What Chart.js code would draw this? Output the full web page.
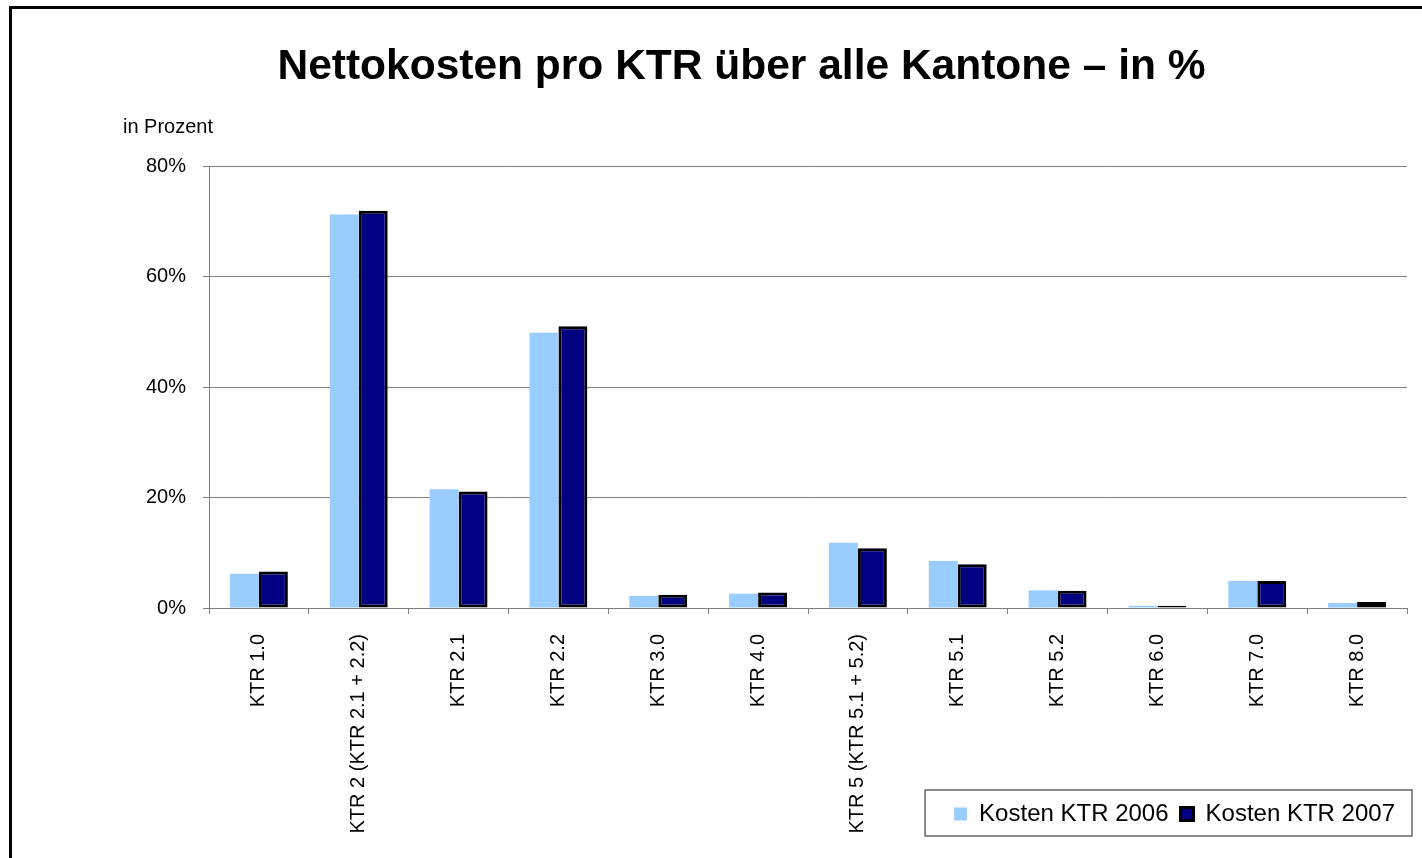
<!DOCTYPE html>
<html>
<head>
<meta charset="utf-8">
<script src="https://cdn.jsdelivr.net/npm/chart.js@4/dist/chart.umd.min.js"></script>
<style>
  body { margin: 0; background: #fff; overflow: hidden; }
  #wrap { position: relative; width: 1422px; height: 858px; }
  #frame { position: absolute; left: 9px; top: 6px; width: 2000px; height: 2000px;
           border: 3px solid #000; pointer-events: none; }
</style>
</head>
<body>
<div id="wrap">
  <canvas id="ktrChart" width="1422" height="858"></canvas>
  <div id="frame"></div>
</div>
<script>
const categories = ["KTR 1.0", "KTR 2 (KTR 2.1 + 2.2)", "KTR 2.1", "KTR 2.2", "KTR 3.0", "KTR 4.0",
    "KTR 5 (KTR 5.1 + 5.2)", "KTR 5.1", "KTR 5.2", "KTR 6.0", "KTR 7.0", "KTR 8.0"];
const kosten2006 = [6.2, 71.2, 21.5, 49.8, 2.2, 2.6, 11.8, 8.5, 3.2, 0.4, 4.9, 0.9];
const kosten2007 = [6.6, 71.9, 21.1, 51.0, 2.4, 2.8, 10.8, 7.9, 3.1, 0.4, 4.9, 1.1];
const yTicks = [0, 20, 40, 60, 80];

const FONT = "'Liberation Sans', Arial, sans-serif";
const GRID = "#7f7f7f";

Chart.defaults.font.family = FONT;
Chart.defaults.color = "#000";

// "in Prozent" label above the y axis + legend frame
const extras = {
    id: "extras",
    afterDraw(chart) {
        const ctx = chart.ctx;
        const area = chart.chartArea;
        ctx.save();
        ctx.font = "20px " + FONT;
        ctx.fillStyle = "#000";
        ctx.textAlign = "left";
        ctx.textBaseline = "middle";
        ctx.fillText("in Prozent", area.left - 86, area.top - 39);

        const lg = chart.legend;
        if (lg && lg.legendHitBoxes && lg.legendHitBoxes.length) {
            const first = lg.legendHitBoxes[0];
            ctx.strokeStyle = "#666";
            ctx.lineWidth = 1.5;
            ctx.strokeRect(first.left - 29, lg.top, lg.right + 5 - (first.left - 29), lg.bottom - lg.top);
        }
        ctx.restore();
    }
};

const ctx = document.getElementById("ktrChart").getContext("2d");
new Chart(ctx, {
    type: "bar",
    data: {
        labels: categories,
        datasets: [
            {
                label: "Kosten KTR 2006",
                data: kosten2006,
                backgroundColor: "#99ccff",
                borderWidth: 0
            },
            {
                label: "Kosten KTR 2007",
                data: kosten2007,
                backgroundColor: "#000080",
                borderColor: "#000",
                borderWidth: 3,
                borderSkipped: false
            }
        ]
    },
    options: {
        responsive: false,
        animation: false,
        layout: { padding: { left: 76, right: 15, top: 0, bottom: 22 } },
        datasets: { bar: { categoryPercentage: 0.58, barPercentage: 1.0 } },
        plugins: {
            title: {
                display: true,
                text: "Nettokosten pro KTR über alle Kantone – in %",
                color: "#000",
                font: { size: 42.5, weight: "bold" },
                padding: { top: 42, bottom: 73 }
            },
            legend: {
                position: "bottom",
                align: "end",
                labels: {
                    font: { size: 24 },
                    boxWidth: 13,
                    boxHeight: 13,
                    padding: 12,
                    color: "#000"
                }
            },
            tooltip: { enabled: false }
        },
        scales: {
            x: {
                afterFit: (scale) => {
                    scale.height = 182;
                    // let the long rotated labels run into the legend band
                    scale._computeLabelArea = () => undefined;
                },
                grid: { drawOnChartArea: false, drawTicks: true, tickLength: 6, color: GRID },
                border: { color: GRID, width: 1 },
                ticks: {
                    autoSkip: false,
                    minRotation: 90,
                    maxRotation: 90,
                    padding: 20,
                    font: { size: 20 },
                    color: "#000"
                }
            },
            y: {
                min: 0,
                max: 80,
                afterFit: (scale) => { scale.width = 133; },
                afterBuildTicks: (scale) => { scale.ticks = yTicks.map(v => ({ value: v })); },
                grid: { color: GRID, lineWidth: 1, tickLength: 6 },
                border: { color: GRID, width: 1 },
                ticks: {
                    padding: 17,
                    font: { size: 20 },
                    color: "#000",
                    callback: (v) => v + "%"
                }
            }
        }
    },
    plugins: [extras]
});
</script>
</body>
</html>
